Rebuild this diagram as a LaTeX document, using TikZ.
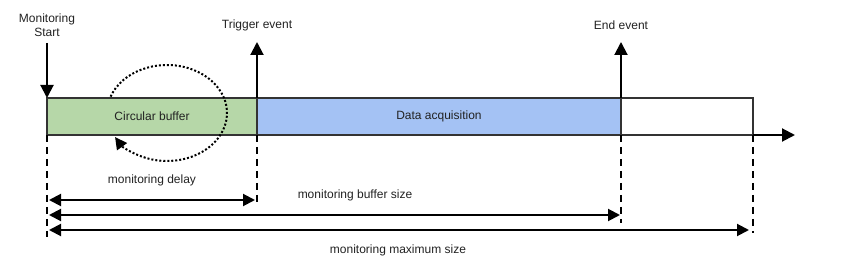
\documentclass[tikz,border=0pt]{standalone}
\usepackage{fontspec}
\setmainfont{Liberation Sans}
\usetikzlibrary{arrows.meta}
\definecolor{cbgreen}{HTML}{B6D7A8}
\definecolor{dablue}{HTML}{A4C2F4}
\definecolor{edge}{HTML}{333333}
\definecolor{txt}{HTML}{222222}
\begin{document}
\begin{tikzpicture}[x=1pt,y=1pt,font=\fontsize{12}{14}\selectfont,
  seg/.style={draw=edge,line width=2pt,minimum height=37pt,inner sep=0pt,outer sep=0pt,anchor=west,text=txt},
  arr/.style={line width=2pt,-{Triangle[length=13pt,width=13pt]}},
  dim/.style={line width=2pt,{Triangle[length=12pt,width=12pt]}-{Triangle[length=12pt,width=12pt]}},
  guide/.style={line width=2pt,dash pattern=on 7pt off 5pt},
  lbl/.style={text=txt,inner sep=0pt,align=center}]
\useasboundingbox (0,0) rectangle (844,-280);
% bar segments
\node[seg,fill=cbgreen,minimum width=210pt] (cb) at (47,-116.5) {Circular buffer};
\node[seg,fill=dablue,minimum width=364pt] (da) at (257,-116.5) {Data acquisition};
\node[seg,minimum width=132pt] (rest) at (621,-116.5) {};
% axis
\coordinate (axend) at (795,-135);
\draw[arr] (rest.south east) -- (axend);
% event labels
\node[lbl] (ms) at (47,-25) {Monitoring\\Start};
\node[lbl] (te) at (257,-25) {Trigger event};
\node[lbl] (ee) at (621,-25) {End event};
\coordinate (msTop) at (47,-43);
\coordinate (teTop) at (257,-42);
\coordinate (eeTop) at (621,-42);
\draw[arr] (msTop) -- (cb.north west);
\draw[arr] (cb.north east) -- (teTop);
\draw[arr] (da.north east) -- (eeTop);
% dashed guides
\coordinate (g1) at (47,-237);
\coordinate (g2) at (257,-205);
\coordinate (g3) at (621,-223);
\coordinate (g4) at (753,-233);
\draw[guide] (cb.south west) -- (g1);
\draw[guide] (cb.south east) -- (g2);
\draw[guide] (da.south east) -- (g3);
\draw[guide] (rest.south east) -- (g4);
% dimension arrows
\coordinate (d1a) at (49,-200); \coordinate (d1b) at (255,-200);
\coordinate (d2a) at (49,-215); \coordinate (d2b) at (620,-215);
\coordinate (d3a) at (49,-230); \coordinate (d3b) at (749,-230);
\draw[dim] (d1a) -- (d1b);
\draw[dim] (d2a) -- (d2b);
\draw[dim] (d3a) -- (d3b);
\node[lbl] (l1) at (152,-180) {monitoring delay};
\node[lbl] (l2) at (355,-195) {monitoring buffer size};
\node[lbl] (l3) at (398,-250) {monitoring maximum size};
% circular arrow
\draw[line width=2pt,dash pattern=on 2pt off 2pt,-{Triangle[length=12pt,width=12pt]}]
  (167,-113) ++(160:60 and 48) arc[start angle=160,end angle=-150,x radius=60,y radius=48];
\end{tikzpicture}
\end{document}
